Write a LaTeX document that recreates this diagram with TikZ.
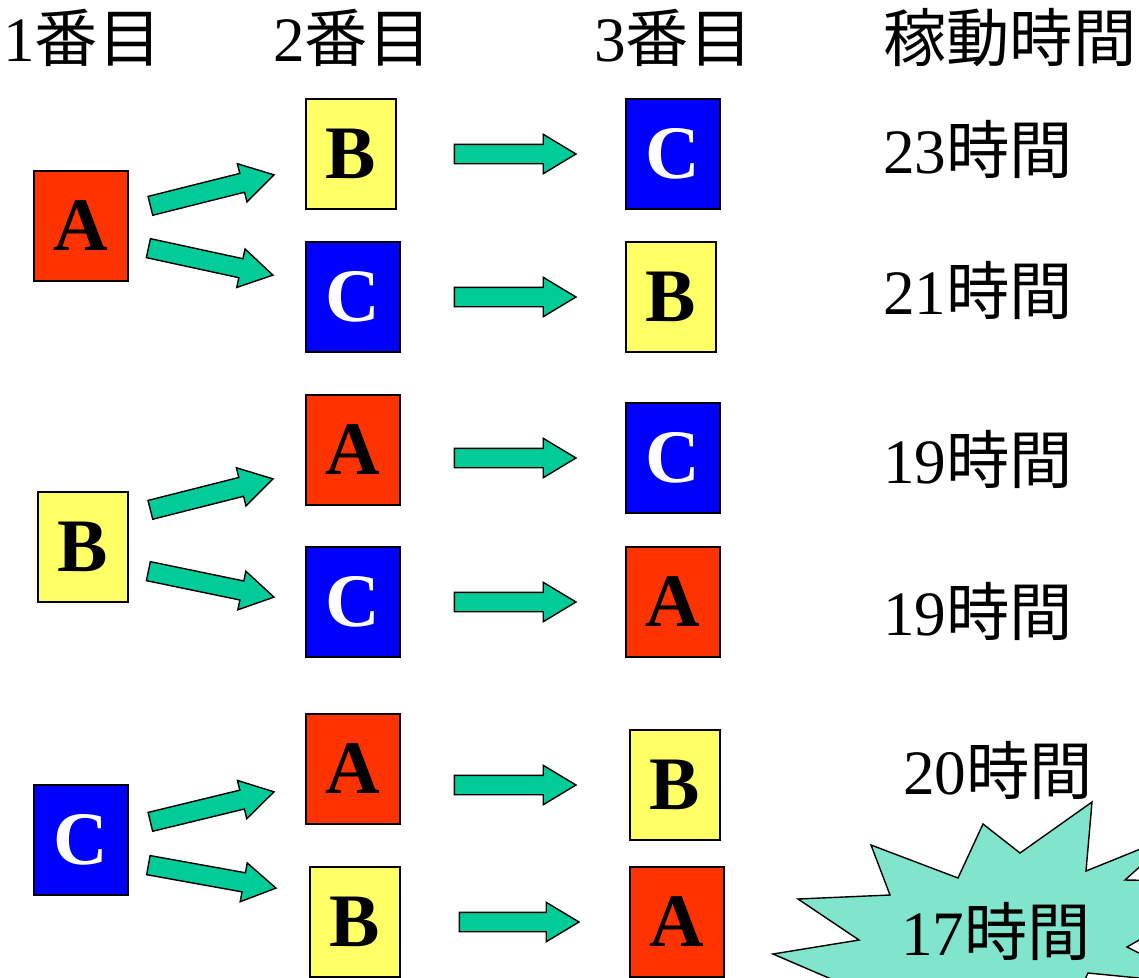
\documentclass[tikz,border=0pt]{standalone}
\usepackage{fontspec}
\setmainfont{Liberation Serif}
\newfontfamily\jpfont{Noto Sans CJK JP}
\usetikzlibrary{shapes.arrows,calc}

\definecolor{jobred}{RGB}{255,51,0}
\definecolor{jobblue}{RGB}{0,0,255}
\definecolor{jobyellow}{RGB}{255,255,102}
\definecolor{arrowgreen}{RGB}{0,204,153}
\definecolor{burstgreen}{RGB}{128,229,204}

\newcommand{\jp}[1]{{\jpfont #1}}
% fat green arrow from #1 to #2
\newcommand{\fatarrow}[2]{%
  \path let \p1=(#1), \p2=(#2),
    \n1={atan2(\y2-\y1,\x2-\x1)}, \n2={veclen(\x2-\x1,\y2-\y1)} in
    (\p1) node[blockarrow, anchor=tail, rotate=\n1, minimum height=\n2] {};}

\tikzset{
  job/.style={draw, line width=0.8pt, minimum width=1.88cm, minimum height=2.2cm,
    inner sep=0pt, font=\fontsize{43}{48}\selectfont\bfseries},
  jobA/.style={job, fill=jobred},
  jobB/.style={job, fill=jobyellow, minimum width=1.8cm},
  jobC/.style={job, fill=jobblue, text=white},
  blockarrow/.style={single arrow, draw, line width=0.8pt, fill=arrowgreen,
    inner xsep=0pt, inner ysep=0.18cm, single arrow head extend=0.2cm,
    single arrow tip angle=62},
  txt/.style={anchor=base west, inner sep=0pt, font=\fontsize{36}{40}\selectfont}
}

\begin{document}
\begin{tikzpicture}[x=0.02cm, y=-0.02cm]
    \useasboundingbox (0,0) rectangle (1139,977);

    % the best order
    \begin{scope}
        \clip (0,0) rectangle (1139,977);
        \draw[line width=0.8pt, fill=burstgreen] (1092,802) -- (1086,871) -- (1175,835)
            -- (1125,880) -- (1240,882) -- (1127,947) -- (1200,984) -- (1088,973)
            -- (1060,1030) -- (880,1000) -- (773,954) -- (859,940) -- (798,899)
            -- (890,895) -- (871,845) -- (958,878) -- (983,824) -- (1020,853) -- cycle;
    \end{scope}

    \node[txt] (h1) at (3,61) {1\jp{番目}};
    \node[txt] (h2) at (273,61) {2\jp{番目}};
    \node[txt] (h3) at (594,61) {3\jp{番目}};
    \node[txt] (h4) at (883,61) {\jp{稼動時間}};

    \node[jobA] (l1) at (81,226) {A};
    \node[jobB] (l2) at (83,547) {B};
    \node[jobC] (l3) at (81,840) {C};

    \node[jobB] (m1) at (351,154) {B};
    \node[jobC] (m2) at (353,297) {C};
    \node[jobA] (m3) at (353,450) {A};
    \node[jobC] (m4) at (353,602) {C};
    \node[jobA] (m5) at (353,769) {A};
    \node[jobB] (m6) at (355,922) {B};

    \node[jobC] (r1) at (673,154) {C};
    \node[jobB] (r2) at (671,297) {B};
    \node[jobC] (r3) at (673,458) {C};
    \node[jobA] (r4) at (673,602) {A};
    \node[jobB] (r5) at (675,785) {B};
    \node[jobA] (r6) at (677,922) {A};

    \fatarrow{$(l1.east)+(21,-20)$}{$(m1.west)+(-32,21)$}
    \fatarrow{$(l1.east)+(19,22)$}{$(m2.west)+(-33,-22)$}
    \fatarrow{$(l2.east)+(21,-37)$}{$(m3.west)+(-33,29)$}
    \fatarrow{$(l2.east)+(19,24)$}{$(m4.west)+(-32,-5)$}
    \fatarrow{$(l3.east)+(21,-18)$}{$(m5.west)+(-32,23)$}
    \fatarrow{$(l3.east)+(19,25)$}{$(m6.west)+(-34,-34)$}

    \fatarrow{$(m1.east |- r1.west)+(57,0)$}{$(r1.west)+(-50,0)$}
    \fatarrow{$(m2.east |- r2.west)+(53,0)$}{$(r2.west)+(-50,0)$}
    \fatarrow{$(m3.east |- r3.west)+(53,0)$}{$(r3.west)+(-50,0)$}
    \fatarrow{$(m4.east |- r4.west)+(53,0)$}{$(r4.west)+(-50,0)$}
    \fatarrow{$(m5.east |- r5.west)+(53,0)$}{$(r5.west)+(-54,0)$}
    \fatarrow{$(m6.east |- r6.west)+(58,0)$}{$(r6.west)+(-51,0)$}

    \node[txt] (t1) at (883,173) {23\jp{時間}};
    \node[txt] (t2) at (883,314) {21\jp{時間}};
    \node[txt] (t3) at (883,483) {19\jp{時間}};
    \node[txt] (t4) at (883,635) {19\jp{時間}};
    \node[txt] (t5) at (903,794) {20\jp{時間}};
    \node[txt] (t6) at (901,955) {17\jp{時間}};

\end{tikzpicture}
\end{document}
